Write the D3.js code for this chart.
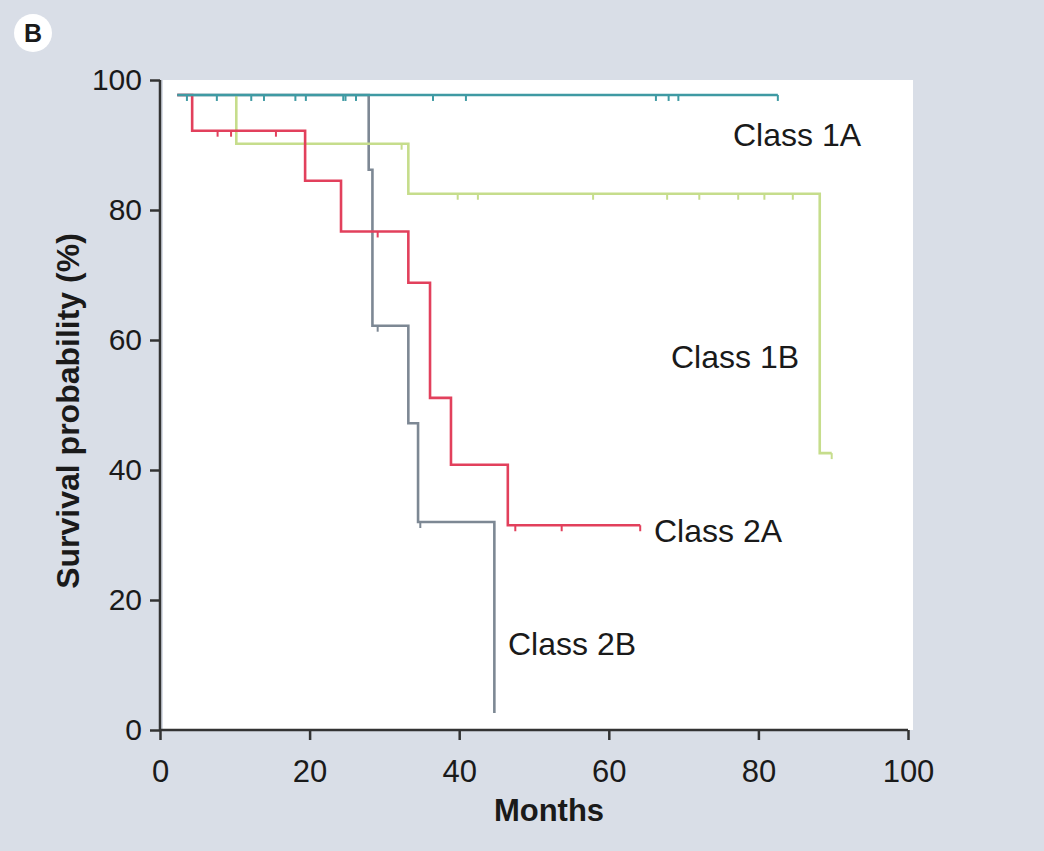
<!DOCTYPE html>
<meta charset="utf-8">
<script type="text/javascript" src="https://cdnjs.cloudflare.com/ajax/libs/d3/7.8.5/d3.min.js"></script>
<style>
    body { margin: 0; background: #d9dee7; }
    text { font-family: "Liberation Sans", Arial, sans-serif; fill: #1a1a1a; }
    .km { fill: none; }
    .axis path, .axis line { stroke: #333; stroke-width: 2.5; }
</style>
<body>
<script>

    // step points [month, survival %] and censor times for each class
    var class1A = [[2.3, 97.7], [82.6, 97.7]]
    var class1A_cens = [3.6, 7.6, 12.2, 13.9, 18.1, 19.5, 24.5, 24.8, 26.2, 36.5, 40.9, 66.3, 68.0, 69.3, 82.6]

    var class1B = [[10.2, 97.7], [10.2, 90.2], [33.2, 82.5], [88.2, 42.6], [89.8, 42.6]]
    var class1B_cens = [32.3, 39.8, 42.5, 57.9, 67.8, 72.1, 77.3, 80.8, 84.6, 89.8]

    var class2A = [[2.3, 97.7], [4.3, 92.2], [19.4, 84.5], [24.2, 76.7], [33.2, 68.8], [36.1, 51.1], [38.9, 40.8], [46.5, 31.5], [64.2, 31.5]]
    var class2A_cens = [7.7, 9.5, 15.5, 29.1, 47.5, 53.7, 64.2]

    var class2B = [[2.3, 97.7], [27.9, 86.2], [28.4, 62.2], [33.2, 47.2], [34.5, 32.0], [44.7, 2.6]]
    var class2B_cens = [29.1, 34.8]

    var x_ticks = [0, 20, 40, 60, 80, 100]
    var y_ticks = [0, 20, 40, 60, 80, 100]

    var series = [
        {name: "Class 2B", pts: class2B, cens: class2B_cens, color: "#7d8894", lx: 508, ly: 655},
        {name: "Class 1B", pts: class1B, cens: class1B_cens, color: "#c6dd8c", lx: 671, ly: 368},
        {name: "Class 2A", pts: class2A, cens: class2A_cens, color: "#e2405c", lx: 654, ly: 542},
        {name: "Class 1A", pts: class1A, cens: class1A_cens, color: "#3f9aa3", lx: 733, ly: 146}
    ]

    var W = 1044, H = 851

    var x_scale = d3.scaleLinear().domain([0, 100]).range([160, 908])
    var y_scale = d3.scaleLinear().domain([0, 100]).range([730, 80])

    var svg = d3.select("body").append("svg").attr("width", W).attr("height", H)

    svg.append("rect").attr("width", W).attr("height", H).style("fill", "#d9dee7")

    // white plot area
    svg.append("rect").attr("x", 163).attr("y", y_scale(100)).attr("width", 750).attr("height", y_scale(0) - y_scale(100)).style("fill", "#ffffff")

    // panel letter
    svg.append("circle").attr("cx", 33).attr("cy", 33).attr("r", 19).style("fill", "#ffffff")
    svg.append("text").attr("x", 33).attr("y", 42).text("B").style("text-anchor", "middle").style("font-size", "25px").style("font-weight", "bold")

    var line = d3.line().x((d) => { return x_scale(d[0]) }).y((d) => { return y_scale(d[1]) }).curve(d3.curveStepAfter)

    function levelAt(pts, t) {
        var s = pts[0][1]
        pts.forEach((p) => { if (p[0] <= t) s = p[1] })
        return s
    }

    series.forEach((s) => {
        svg.append("path").datum(s.pts).attr("class", "km").attr("d", line).style("stroke", s.color).style("stroke-width", 2.6)
        svg.selectAll(null).data(s.cens).enter().append("line")
            .attr("x1", (d) => { return x_scale(d) }).attr("x2", (d) => { return x_scale(d) })
            .attr("y1", (d) => { return y_scale(levelAt(s.pts, d)) })
            .attr("y2", (d) => { return y_scale(levelAt(s.pts, d)) + 6 })
            .style("stroke", s.color).style("stroke-width", 2)
    })

    // curve labels
    series.forEach((s) => {
        svg.append("text").attr("x", s.lx).attr("y", s.ly).text(s.name).style("font-size", "32px")
    })

    // axes
    var x_axis = d3.axisBottom(x_scale).tickValues(x_ticks).tickSize(10).tickSizeOuter(0).tickPadding(20)
    var y_axis = d3.axisLeft(y_scale).tickValues(y_ticks).tickSize(10).tickSizeOuter(0).tickPadding(8)

    var gx = svg.append("g").attr("class", "axis").attr("transform", "translate(0," + y_scale(0) + ")").call(x_axis)
    var gy = svg.append("g").attr("class", "axis").attr("transform", "translate(" + x_scale(0) + ",0)").call(y_axis)
    gx.selectAll("text").style("font-size", "31px").style("font-family", "Liberation Sans, Arial, sans-serif").style("fill", "#1a1a1a")
    gy.selectAll("text").style("font-size", "30px").style("font-family", "Liberation Sans, Arial, sans-serif").style("fill", "#1a1a1a")
    gx.select(".domain").attr("d", "M" + x_scale(0) + ",0H" + x_scale(100))
    gy.select(".domain").attr("d", "M0," + y_scale(0) + "V" + y_scale(100))

    svg.append("text").attr("x", 549).attr("y", 821).text("Months").style("text-anchor", "middle").style("font-size", "31px").style("font-weight", "bold")
    svg.append("text").attr("transform", "translate(79,411) rotate(-90)").text("Survival probability (%)").style("text-anchor", "middle").style("font-size", "32px").style("font-weight", "bold")

</script>
</body>
</html>
